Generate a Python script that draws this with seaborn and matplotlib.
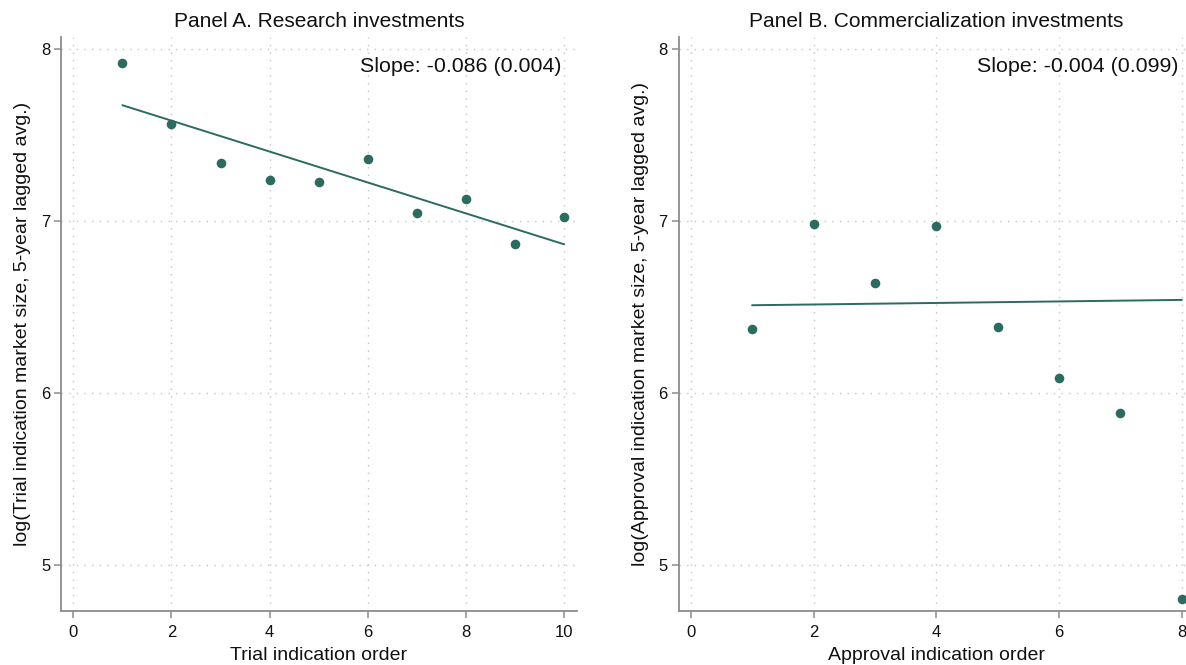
import matplotlib
matplotlib.use("Agg")
import matplotlib.pyplot as plt
import seaborn as sns
import pandas as pd

# Panel A: binned research investments by trial indication order
trial_order = [1, 2, 3, 4, 5, 6, 7, 8, 9, 10]
trial_log_size = [7.917, 7.562, 7.339, 7.241, 7.229, 7.361, 7.045, 7.130, 6.865, 7.022]
trial_fit_x = [1, 10]
trial_fit_y = [7.673, 6.865]
trial_slope_label = "Slope: -0.086 (0.004)"

# Panel B: binned commercialization investments by approval indication order
approval_order = [1, 2, 3, 4, 5, 6, 7, 8]
approval_log_size = [6.371, 6.985, 6.642, 6.973, 6.386, 6.087, 5.883, 4.802]
approval_fit_x = [1, 8]
approval_fit_y = [6.511, 6.542]
approval_slope_label = "Slope: -0.004 (0.099)"

y_ticks = [5, 6, 7, 8]
trial_x_ticks = [0, 2, 4, 6, 8, 10]
approval_x_ticks = [0, 2, 4, 6, 8]

sns.set_theme(style="white")
plt.rcParams["font.family"] = ["Liberation Sans", "DejaVu Sans"]

MARK = "#2b6b60"
SPINE = "#8c8c8c"
GRID = "#c4c4c4"

W, H = 1186, 665
fig = plt.figure(figsize=(W / 100, H / 100), dpi=100)
ax_w = 515.2 / W
ax_h = (611.3 - 36.7) / H
bottom = (H - 611.3) / H
ax_a = fig.add_axes([61.3 / W, bottom, ax_w, ax_h])
ax_b = fig.add_axes([678.7 / W, bottom, ax_w, ax_h])

panels = [
    (ax_a, trial_order, trial_log_size, trial_fit_x, trial_fit_y, trial_slope_label,
     trial_x_ticks, (-0.245, 10.253), "Panel A. Research investments",
     "Trial indication order", "log(Trial indication market size, 5-year lagged avg.)"),
    (ax_b, approval_order, approval_log_size, approval_fit_x, approval_fit_y, approval_slope_label,
     approval_x_ticks, (-0.1955, 8.1955), "Panel B. Commercialization investments",
     "Approval indication order", "log(Approval indication market size, 5-year lagged avg.)"),
]

for ax, xs, ys, fx, fy, slope, xt, xlim, title, xlabel, ylabel in panels:
    pts = pd.DataFrame({"order": xs, "size": ys})
    fit = pd.DataFrame({"order": fx, "size": fy})
    sns.lineplot(data=fit, x="order", y="size", ax=ax, color=MARK, linewidth=1.4, zorder=3)
    sns.scatterplot(data=pts, x="order", y="size", ax=ax, color=MARK, s=48,
                    linewidth=0, zorder=4)
    ax.set_xlim(*xlim)
    ax.set_ylim(4.733, 8.071)
    ax.set_xticks(xt)
    ax.set_yticks(y_ticks)
    ax.grid(True, color=GRID, linestyle=(0, (1, 4.5)), linewidth=1.0)
    ax.set_axisbelow(True)
    for side in ("top", "right"):
        ax.spines[side].set_visible(False)
    for side in ("left", "bottom"):
        ax.spines[side].set_color(SPINE)
        ax.spines[side].set_linewidth(1.3)
    ax.tick_params(axis="both", which="major", length=5, width=1.1, color=SPINE,
                   labelsize=12, labelcolor="#111111", pad=3, bottom=True, left=True,
                   direction="out")
    ax.tick_params(axis="x", pad=5)
    ax.set_title(title, fontsize=15, pad=7, color="#111111")
    ax.set_xlabel(xlabel, fontsize=14, color="#111111", labelpad=5)
    ax.set_ylabel(ylabel, fontsize=14, color="#111111", labelpad=7)
    ax.text(0.971, 0.949, slope, transform=ax.transAxes, ha="right", va="center",
            fontsize=15.4, color="#111111")

fig.savefig("out.png", dpi=100, facecolor="white")
